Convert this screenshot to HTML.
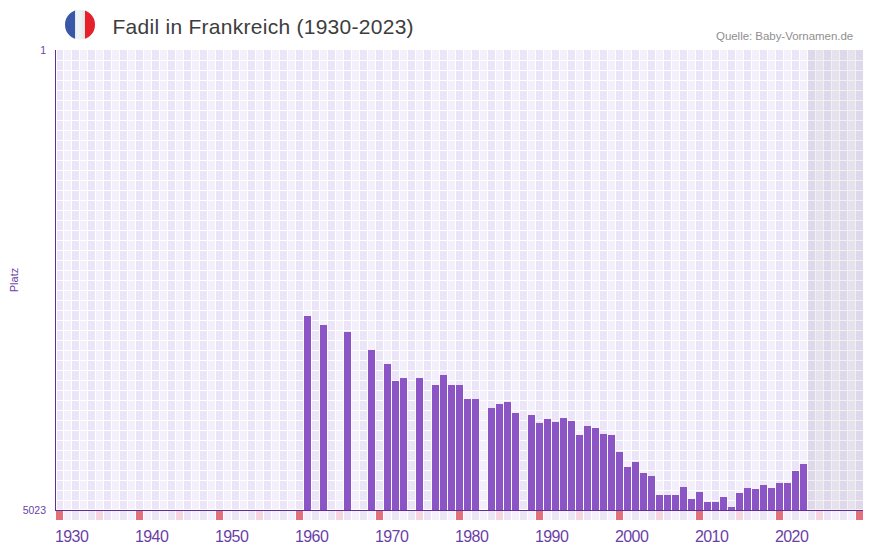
<!DOCTYPE html>
<html><head><meta charset="utf-8">
<style>
html,body{margin:0;padding:0;background:#fff;width:873px;height:552px;overflow:hidden;}
body{position:relative;font-family:"Liberation Sans",sans-serif;}
svg{position:absolute;left:0;top:0;}
.title{position:absolute;left:112.5px;top:13px;font-size:21px;letter-spacing:0.27px;color:#3d3d3d;white-space:nowrap;line-height:28px;}
.src{position:absolute;left:716px;top:28px;font-size:11.5px;color:#8f8f8f;letter-spacing:-0.04px;white-space:nowrap;line-height:16px;}
.xl{position:absolute;top:526.5px;margin-left:-1px;font-size:16px;letter-spacing:-0.6px;color:#6b3fa6;line-height:20px;white-space:nowrap;}
.yl{position:absolute;font-size:10.5px;color:#6b3fa6;line-height:14px;white-space:nowrap;text-align:right;width:40px;left:6px;}
.platz{position:absolute;left:14px;top:280px;font-size:11px;color:#6b3fa6;line-height:14px;white-space:nowrap;transform:translate(-50%,-50%) rotate(-90deg);}
</style></head><body>
<svg width="873" height="552" viewBox="0 0 873 552" shape-rendering="crispEdges">
<defs><linearGradient id="wg" x1="0" x2="1"><stop offset="0" stop-color="#f0f3f5"/><stop offset="0.6" stop-color="#eef1f3"/><stop offset="1" stop-color="#dfe4e4"/></linearGradient><clipPath id="fc"><circle cx="80" cy="24.7" r="15"/></clipPath></defs>
<g clip-path="url(#fc)" shape-rendering="auto">
<rect x="65" y="9" width="10.3" height="32" fill="#3a56a6"/>
<rect x="75.3" y="9" width="9.7" height="32" fill="url(#wg)"/>
<rect x="85" y="9" width="11" height="32" fill="#e5202a"/>
</g>
<rect x="57" y="50" width="6" height="459" fill="#ece5f8"/>
<rect x="64" y="50" width="7" height="459" fill="#f3f0fc"/>
<rect x="72" y="50" width="7" height="459" fill="#ece5f8"/>
<rect x="80" y="50" width="7" height="459" fill="#f3f0fc"/>
<rect x="88" y="50" width="7" height="459" fill="#ece5f8"/>
<rect x="96" y="50" width="7" height="459" fill="#f3f0fc"/>
<rect x="104" y="50" width="7" height="459" fill="#ece5f8"/>
<rect x="112" y="50" width="7" height="459" fill="#f3f0fc"/>
<rect x="120" y="50" width="7" height="459" fill="#ece5f8"/>
<rect x="128" y="50" width="7" height="459" fill="#f3f0fc"/>
<rect x="136" y="50" width="7" height="459" fill="#ece5f8"/>
<rect x="144" y="50" width="7" height="459" fill="#f3f0fc"/>
<rect x="152" y="50" width="7" height="459" fill="#ece5f8"/>
<rect x="160" y="50" width="7" height="459" fill="#f3f0fc"/>
<rect x="168" y="50" width="7" height="459" fill="#ece5f8"/>
<rect x="176" y="50" width="7" height="459" fill="#f3f0fc"/>
<rect x="184" y="50" width="7" height="459" fill="#ece5f8"/>
<rect x="192" y="50" width="7" height="459" fill="#f3f0fc"/>
<rect x="200" y="50" width="7" height="459" fill="#ece5f8"/>
<rect x="208" y="50" width="7" height="459" fill="#f3f0fc"/>
<rect x="216" y="50" width="7" height="459" fill="#ece5f8"/>
<rect x="224" y="50" width="7" height="459" fill="#f3f0fc"/>
<rect x="232" y="50" width="7" height="459" fill="#ece5f8"/>
<rect x="240" y="50" width="7" height="459" fill="#f3f0fc"/>
<rect x="248" y="50" width="7" height="459" fill="#ece5f8"/>
<rect x="256" y="50" width="7" height="459" fill="#f3f0fc"/>
<rect x="264" y="50" width="7" height="459" fill="#ece5f8"/>
<rect x="272" y="50" width="7" height="459" fill="#f3f0fc"/>
<rect x="280" y="50" width="7" height="459" fill="#ece5f8"/>
<rect x="288" y="50" width="7" height="459" fill="#f3f0fc"/>
<rect x="296" y="50" width="7" height="459" fill="#ece5f8"/>
<rect x="304" y="50" width="7" height="459" fill="#f3f0fc"/>
<rect x="312" y="50" width="7" height="459" fill="#ece5f8"/>
<rect x="320" y="50" width="7" height="459" fill="#f3f0fc"/>
<rect x="328" y="50" width="7" height="459" fill="#ece5f8"/>
<rect x="336" y="50" width="7" height="459" fill="#f3f0fc"/>
<rect x="344" y="50" width="7" height="459" fill="#ece5f8"/>
<rect x="352" y="50" width="7" height="459" fill="#f3f0fc"/>
<rect x="360" y="50" width="7" height="459" fill="#ece5f8"/>
<rect x="368" y="50" width="7" height="459" fill="#f3f0fc"/>
<rect x="376" y="50" width="7" height="459" fill="#ece5f8"/>
<rect x="384" y="50" width="7" height="459" fill="#f3f0fc"/>
<rect x="392" y="50" width="7" height="459" fill="#ece5f8"/>
<rect x="400" y="50" width="7" height="459" fill="#f3f0fc"/>
<rect x="408" y="50" width="7" height="459" fill="#ece5f8"/>
<rect x="416" y="50" width="7" height="459" fill="#f3f0fc"/>
<rect x="424" y="50" width="7" height="459" fill="#ece5f8"/>
<rect x="432" y="50" width="7" height="459" fill="#f3f0fc"/>
<rect x="440" y="50" width="7" height="459" fill="#ece5f8"/>
<rect x="448" y="50" width="7" height="459" fill="#f3f0fc"/>
<rect x="456" y="50" width="7" height="459" fill="#ece5f8"/>
<rect x="464" y="50" width="7" height="459" fill="#f3f0fc"/>
<rect x="472" y="50" width="7" height="459" fill="#ece5f8"/>
<rect x="480" y="50" width="7" height="459" fill="#f3f0fc"/>
<rect x="488" y="50" width="7" height="459" fill="#ece5f8"/>
<rect x="496" y="50" width="7" height="459" fill="#f3f0fc"/>
<rect x="504" y="50" width="7" height="459" fill="#ece5f8"/>
<rect x="512" y="50" width="7" height="459" fill="#f3f0fc"/>
<rect x="520" y="50" width="7" height="459" fill="#ece5f8"/>
<rect x="528" y="50" width="7" height="459" fill="#f3f0fc"/>
<rect x="536" y="50" width="7" height="459" fill="#ece5f8"/>
<rect x="544" y="50" width="7" height="459" fill="#f3f0fc"/>
<rect x="552" y="50" width="7" height="459" fill="#ece5f8"/>
<rect x="560" y="50" width="7" height="459" fill="#f3f0fc"/>
<rect x="568" y="50" width="7" height="459" fill="#ece5f8"/>
<rect x="576" y="50" width="7" height="459" fill="#f3f0fc"/>
<rect x="584" y="50" width="7" height="459" fill="#ece5f8"/>
<rect x="592" y="50" width="7" height="459" fill="#f3f0fc"/>
<rect x="600" y="50" width="7" height="459" fill="#ece5f8"/>
<rect x="608" y="50" width="7" height="459" fill="#f3f0fc"/>
<rect x="616" y="50" width="7" height="459" fill="#ece5f8"/>
<rect x="624" y="50" width="7" height="459" fill="#f3f0fc"/>
<rect x="632" y="50" width="7" height="459" fill="#ece5f8"/>
<rect x="640" y="50" width="7" height="459" fill="#f3f0fc"/>
<rect x="648" y="50" width="7" height="459" fill="#ece5f8"/>
<rect x="656" y="50" width="7" height="459" fill="#f3f0fc"/>
<rect x="664" y="50" width="7" height="459" fill="#ece5f8"/>
<rect x="672" y="50" width="7" height="459" fill="#f3f0fc"/>
<rect x="680" y="50" width="7" height="459" fill="#ece5f8"/>
<rect x="688" y="50" width="7" height="459" fill="#f3f0fc"/>
<rect x="696" y="50" width="7" height="459" fill="#ece5f8"/>
<rect x="704" y="50" width="7" height="459" fill="#f3f0fc"/>
<rect x="712" y="50" width="7" height="459" fill="#ece5f8"/>
<rect x="720" y="50" width="7" height="459" fill="#f3f0fc"/>
<rect x="728" y="50" width="7" height="459" fill="#ece5f8"/>
<rect x="736" y="50" width="7" height="459" fill="#f3f0fc"/>
<rect x="744" y="50" width="7" height="459" fill="#ece5f8"/>
<rect x="752" y="50" width="7" height="459" fill="#f3f0fc"/>
<rect x="760" y="50" width="7" height="459" fill="#ece5f8"/>
<rect x="768" y="50" width="7" height="459" fill="#f3f0fc"/>
<rect x="776" y="50" width="7" height="459" fill="#ece5f8"/>
<rect x="784" y="50" width="7" height="459" fill="#f3f0fc"/>
<rect x="792" y="50" width="7" height="459" fill="#ece5f8"/>
<rect x="800" y="50" width="7" height="459" fill="#f3f0fc"/>
<rect x="808" y="50" width="7" height="459" fill="#ece5f8"/>
<rect x="816" y="50" width="7" height="459" fill="#f3f0fc"/>
<rect x="824" y="50" width="7" height="459" fill="#ece5f8"/>
<rect x="832" y="50" width="7" height="459" fill="#f3f0fc"/>
<rect x="840" y="50" width="7" height="459" fill="#ece5f8"/>
<rect x="848" y="50" width="7" height="459" fill="#f3f0fc"/>
<rect x="856" y="50" width="7" height="459" fill="#ece5f8"/>
<rect x="56" y="60" width="808" height="1" fill="#fff"/>
<rect x="56" y="70" width="808" height="1" fill="#fff"/>
<rect x="56" y="80" width="808" height="1" fill="#fff"/>
<rect x="56" y="90" width="808" height="1" fill="#fff"/>
<rect x="56" y="100" width="808" height="1" fill="#fff"/>
<rect x="56" y="110" width="808" height="1" fill="#fff"/>
<rect x="56" y="120" width="808" height="1" fill="#fff"/>
<rect x="56" y="130" width="808" height="1" fill="#fff"/>
<rect x="56" y="140" width="808" height="1" fill="#fff"/>
<rect x="56" y="150" width="808" height="1" fill="#fff"/>
<rect x="56" y="160" width="808" height="1" fill="#fff"/>
<rect x="56" y="170" width="808" height="1" fill="#fff"/>
<rect x="56" y="180" width="808" height="1" fill="#fff"/>
<rect x="56" y="190" width="808" height="1" fill="#fff"/>
<rect x="56" y="200" width="808" height="1" fill="#fff"/>
<rect x="56" y="210" width="808" height="1" fill="#fff"/>
<rect x="56" y="220" width="808" height="1" fill="#fff"/>
<rect x="56" y="230" width="808" height="1" fill="#fff"/>
<rect x="56" y="240" width="808" height="1" fill="#fff"/>
<rect x="56" y="250" width="808" height="1" fill="#fff"/>
<rect x="56" y="260" width="808" height="1" fill="#fff"/>
<rect x="56" y="270" width="808" height="1" fill="#fff"/>
<rect x="56" y="280" width="808" height="1" fill="#fff"/>
<rect x="56" y="290" width="808" height="1" fill="#fff"/>
<rect x="56" y="300" width="808" height="1" fill="#fff"/>
<rect x="56" y="310" width="808" height="1" fill="#fff"/>
<rect x="56" y="320" width="808" height="1" fill="#fff"/>
<rect x="56" y="330" width="808" height="1" fill="#fff"/>
<rect x="56" y="340" width="808" height="1" fill="#fff"/>
<rect x="56" y="350" width="808" height="1" fill="#fff"/>
<rect x="56" y="360" width="808" height="1" fill="#fff"/>
<rect x="56" y="370" width="808" height="1" fill="#fff"/>
<rect x="56" y="380" width="808" height="1" fill="#fff"/>
<rect x="56" y="390" width="808" height="1" fill="#fff"/>
<rect x="56" y="400" width="808" height="1" fill="#fff"/>
<rect x="56" y="410" width="808" height="1" fill="#fff"/>
<rect x="56" y="420" width="808" height="1" fill="#fff"/>
<rect x="56" y="430" width="808" height="1" fill="#fff"/>
<rect x="56" y="440" width="808" height="1" fill="#fff"/>
<rect x="56" y="450" width="808" height="1" fill="#fff"/>
<rect x="56" y="460" width="808" height="1" fill="#fff"/>
<rect x="56" y="470" width="808" height="1" fill="#fff"/>
<rect x="56" y="480" width="808" height="1" fill="#fff"/>
<rect x="56" y="490" width="808" height="1" fill="#fff"/>
<rect x="56" y="500" width="808" height="1" fill="#fff"/>
<rect x="808" y="50" width="55" height="460" fill="#000" fill-opacity="0.055"/>
<rect x="304" y="316" width="7" height="194" fill="#8b55c5"/>
<rect x="320" y="325" width="7" height="185" fill="#8b55c5"/>
<rect x="344" y="332" width="7" height="178" fill="#8b55c5"/>
<rect x="368" y="350" width="7" height="160" fill="#8b55c5"/>
<rect x="384" y="364" width="7" height="146" fill="#8b55c5"/>
<rect x="392" y="381" width="7" height="129" fill="#8b55c5"/>
<rect x="400" y="378" width="7" height="132" fill="#8b55c5"/>
<rect x="416" y="378" width="7" height="132" fill="#8b55c5"/>
<rect x="432" y="385" width="7" height="125" fill="#8b55c5"/>
<rect x="440" y="375" width="7" height="135" fill="#8b55c5"/>
<rect x="448" y="385" width="7" height="125" fill="#8b55c5"/>
<rect x="456" y="385" width="7" height="125" fill="#8b55c5"/>
<rect x="464" y="399" width="7" height="111" fill="#8b55c5"/>
<rect x="472" y="399" width="7" height="111" fill="#8b55c5"/>
<rect x="488" y="408" width="7" height="102" fill="#8b55c5"/>
<rect x="496" y="404" width="7" height="106" fill="#8b55c5"/>
<rect x="504" y="402" width="7" height="108" fill="#8b55c5"/>
<rect x="512" y="413" width="7" height="97" fill="#8b55c5"/>
<rect x="528" y="415" width="7" height="95" fill="#8b55c5"/>
<rect x="536" y="423" width="7" height="87" fill="#8b55c5"/>
<rect x="544" y="419" width="7" height="91" fill="#8b55c5"/>
<rect x="552" y="422" width="7" height="88" fill="#8b55c5"/>
<rect x="560" y="418" width="7" height="92" fill="#8b55c5"/>
<rect x="568" y="421" width="7" height="89" fill="#8b55c5"/>
<rect x="576" y="435" width="7" height="75" fill="#8b55c5"/>
<rect x="584" y="426" width="7" height="84" fill="#8b55c5"/>
<rect x="592" y="428" width="7" height="82" fill="#8b55c5"/>
<rect x="600" y="434" width="7" height="76" fill="#8b55c5"/>
<rect x="608" y="435" width="7" height="75" fill="#8b55c5"/>
<rect x="616" y="452" width="7" height="58" fill="#8b55c5"/>
<rect x="624" y="467" width="7" height="43" fill="#8b55c5"/>
<rect x="632" y="462" width="7" height="48" fill="#8b55c5"/>
<rect x="640" y="473" width="7" height="37" fill="#8b55c5"/>
<rect x="648" y="476" width="7" height="34" fill="#8b55c5"/>
<rect x="656" y="495" width="7" height="15" fill="#8b55c5"/>
<rect x="664" y="495" width="7" height="15" fill="#8b55c5"/>
<rect x="672" y="495" width="7" height="15" fill="#8b55c5"/>
<rect x="680" y="487" width="7" height="23" fill="#8b55c5"/>
<rect x="688" y="499" width="7" height="11" fill="#8b55c5"/>
<rect x="696" y="492" width="7" height="18" fill="#8b55c5"/>
<rect x="704" y="502" width="7" height="8" fill="#8b55c5"/>
<rect x="712" y="502" width="7" height="8" fill="#8b55c5"/>
<rect x="720" y="497" width="7" height="13" fill="#8b55c5"/>
<rect x="728" y="507" width="7" height="3" fill="#8b55c5"/>
<rect x="736" y="493" width="7" height="17" fill="#8b55c5"/>
<rect x="744" y="488" width="7" height="22" fill="#8b55c5"/>
<rect x="752" y="489" width="7" height="21" fill="#8b55c5"/>
<rect x="760" y="485" width="7" height="25" fill="#8b55c5"/>
<rect x="768" y="488" width="7" height="22" fill="#8b55c5"/>
<rect x="776" y="483" width="7" height="27" fill="#8b55c5"/>
<rect x="784" y="483" width="7" height="27" fill="#8b55c5"/>
<rect x="792" y="471" width="7" height="39" fill="#8b55c5"/>
<rect x="800" y="464" width="7" height="46" fill="#8b55c5"/>
<rect x="56" y="511" width="7" height="9" fill="#e3707a"/>
<rect x="64" y="511" width="7" height="9" fill="#f3f0fc"/>
<rect x="72" y="511" width="7" height="9" fill="#ece5f8"/>
<rect x="80" y="511" width="7" height="9" fill="#f3f0fc"/>
<rect x="88" y="511" width="7" height="9" fill="#ece5f8"/>
<rect x="96" y="511" width="7" height="9" fill="#f6d5de"/>
<rect x="104" y="511" width="7" height="9" fill="#ece5f8"/>
<rect x="112" y="511" width="7" height="9" fill="#f3f0fc"/>
<rect x="120" y="511" width="7" height="9" fill="#ece5f8"/>
<rect x="128" y="511" width="7" height="9" fill="#f3f0fc"/>
<rect x="136" y="511" width="7" height="9" fill="#e3707a"/>
<rect x="144" y="511" width="7" height="9" fill="#f3f0fc"/>
<rect x="152" y="511" width="7" height="9" fill="#ece5f8"/>
<rect x="160" y="511" width="7" height="9" fill="#f3f0fc"/>
<rect x="168" y="511" width="7" height="9" fill="#ece5f8"/>
<rect x="176" y="511" width="7" height="9" fill="#f6d5de"/>
<rect x="184" y="511" width="7" height="9" fill="#ece5f8"/>
<rect x="192" y="511" width="7" height="9" fill="#f3f0fc"/>
<rect x="200" y="511" width="7" height="9" fill="#ece5f8"/>
<rect x="208" y="511" width="7" height="9" fill="#f3f0fc"/>
<rect x="216" y="511" width="7" height="9" fill="#e3707a"/>
<rect x="224" y="511" width="7" height="9" fill="#f3f0fc"/>
<rect x="232" y="511" width="7" height="9" fill="#ece5f8"/>
<rect x="240" y="511" width="7" height="9" fill="#f3f0fc"/>
<rect x="248" y="511" width="7" height="9" fill="#ece5f8"/>
<rect x="256" y="511" width="7" height="9" fill="#f6d5de"/>
<rect x="264" y="511" width="7" height="9" fill="#ece5f8"/>
<rect x="272" y="511" width="7" height="9" fill="#f3f0fc"/>
<rect x="280" y="511" width="7" height="9" fill="#ece5f8"/>
<rect x="288" y="511" width="7" height="9" fill="#f3f0fc"/>
<rect x="296" y="511" width="7" height="9" fill="#e3707a"/>
<rect x="304" y="511" width="7" height="9" fill="#f3f0fc"/>
<rect x="312" y="511" width="7" height="9" fill="#ece5f8"/>
<rect x="320" y="511" width="7" height="9" fill="#f3f0fc"/>
<rect x="328" y="511" width="7" height="9" fill="#ece5f8"/>
<rect x="336" y="511" width="7" height="9" fill="#f6d5de"/>
<rect x="344" y="511" width="7" height="9" fill="#ece5f8"/>
<rect x="352" y="511" width="7" height="9" fill="#f3f0fc"/>
<rect x="360" y="511" width="7" height="9" fill="#ece5f8"/>
<rect x="368" y="511" width="7" height="9" fill="#f3f0fc"/>
<rect x="376" y="511" width="7" height="9" fill="#e3707a"/>
<rect x="384" y="511" width="7" height="9" fill="#f3f0fc"/>
<rect x="392" y="511" width="7" height="9" fill="#ece5f8"/>
<rect x="400" y="511" width="7" height="9" fill="#f3f0fc"/>
<rect x="408" y="511" width="7" height="9" fill="#ece5f8"/>
<rect x="416" y="511" width="7" height="9" fill="#f6d5de"/>
<rect x="424" y="511" width="7" height="9" fill="#ece5f8"/>
<rect x="432" y="511" width="7" height="9" fill="#f3f0fc"/>
<rect x="440" y="511" width="7" height="9" fill="#ece5f8"/>
<rect x="448" y="511" width="7" height="9" fill="#f3f0fc"/>
<rect x="456" y="511" width="7" height="9" fill="#e3707a"/>
<rect x="464" y="511" width="7" height="9" fill="#f3f0fc"/>
<rect x="472" y="511" width="7" height="9" fill="#ece5f8"/>
<rect x="480" y="511" width="7" height="9" fill="#f3f0fc"/>
<rect x="488" y="511" width="7" height="9" fill="#ece5f8"/>
<rect x="496" y="511" width="7" height="9" fill="#f6d5de"/>
<rect x="504" y="511" width="7" height="9" fill="#ece5f8"/>
<rect x="512" y="511" width="7" height="9" fill="#f3f0fc"/>
<rect x="520" y="511" width="7" height="9" fill="#ece5f8"/>
<rect x="528" y="511" width="7" height="9" fill="#f3f0fc"/>
<rect x="536" y="511" width="7" height="9" fill="#e3707a"/>
<rect x="544" y="511" width="7" height="9" fill="#f3f0fc"/>
<rect x="552" y="511" width="7" height="9" fill="#ece5f8"/>
<rect x="560" y="511" width="7" height="9" fill="#f3f0fc"/>
<rect x="568" y="511" width="7" height="9" fill="#ece5f8"/>
<rect x="576" y="511" width="7" height="9" fill="#f6d5de"/>
<rect x="584" y="511" width="7" height="9" fill="#ece5f8"/>
<rect x="592" y="511" width="7" height="9" fill="#f3f0fc"/>
<rect x="600" y="511" width="7" height="9" fill="#ece5f8"/>
<rect x="608" y="511" width="7" height="9" fill="#f3f0fc"/>
<rect x="616" y="511" width="7" height="9" fill="#e3707a"/>
<rect x="624" y="511" width="7" height="9" fill="#f3f0fc"/>
<rect x="632" y="511" width="7" height="9" fill="#ece5f8"/>
<rect x="640" y="511" width="7" height="9" fill="#f3f0fc"/>
<rect x="648" y="511" width="7" height="9" fill="#ece5f8"/>
<rect x="656" y="511" width="7" height="9" fill="#f6d5de"/>
<rect x="664" y="511" width="7" height="9" fill="#ece5f8"/>
<rect x="672" y="511" width="7" height="9" fill="#f3f0fc"/>
<rect x="680" y="511" width="7" height="9" fill="#ece5f8"/>
<rect x="688" y="511" width="7" height="9" fill="#f3f0fc"/>
<rect x="696" y="511" width="7" height="9" fill="#e3707a"/>
<rect x="704" y="511" width="7" height="9" fill="#f3f0fc"/>
<rect x="712" y="511" width="7" height="9" fill="#ece5f8"/>
<rect x="720" y="511" width="7" height="9" fill="#f3f0fc"/>
<rect x="728" y="511" width="7" height="9" fill="#ece5f8"/>
<rect x="736" y="511" width="7" height="9" fill="#f6d5de"/>
<rect x="744" y="511" width="7" height="9" fill="#ece5f8"/>
<rect x="752" y="511" width="7" height="9" fill="#f3f0fc"/>
<rect x="760" y="511" width="7" height="9" fill="#ece5f8"/>
<rect x="768" y="511" width="7" height="9" fill="#f3f0fc"/>
<rect x="776" y="511" width="7" height="9" fill="#e3707a"/>
<rect x="784" y="511" width="7" height="9" fill="#f3f0fc"/>
<rect x="792" y="511" width="7" height="9" fill="#ece5f8"/>
<rect x="800" y="511" width="7" height="9" fill="#f3f0fc"/>
<rect x="808" y="511" width="7" height="9" fill="#ece5f8"/>
<rect x="816" y="511" width="7" height="9" fill="#f6d5de"/>
<rect x="824" y="511" width="7" height="9" fill="#ece5f8"/>
<rect x="832" y="511" width="7" height="9" fill="#f3f0fc"/>
<rect x="840" y="511" width="7" height="9" fill="#ece5f8"/>
<rect x="848" y="511" width="7" height="9" fill="#f3f0fc"/>
<rect x="856" y="511" width="7" height="9" fill="#e3707a"/>
<rect x="55" y="50" width="1" height="461" fill="#5f2e96"/>
<rect x="55" y="510" width="808" height="1" fill="#5f2e96"/>
</svg>
<div class="title">Fadil in Frankreich (1930-2023)</div>
<div class="src">Quelle: Baby-Vornamen.de</div>
<div class="yl" style="top:43px">1</div>
<div class="yl" style="top:503px">5023</div>
<div class="platz">Platz</div>
<div class="xl" style="left:56px">1930</div>
<div class="xl" style="left:136px">1940</div>
<div class="xl" style="left:216px">1950</div>
<div class="xl" style="left:296px">1960</div>
<div class="xl" style="left:376px">1970</div>
<div class="xl" style="left:456px">1980</div>
<div class="xl" style="left:536px">1990</div>
<div class="xl" style="left:616px">2000</div>
<div class="xl" style="left:696px">2010</div>
<div class="xl" style="left:776px">2020</div>
</body></html>
